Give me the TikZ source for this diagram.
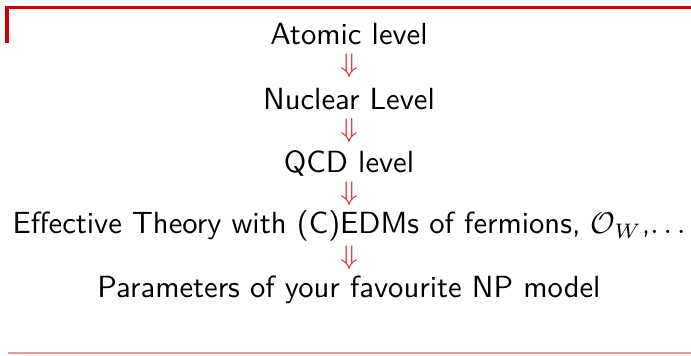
\documentclass[tikz,border=0pt]{standalone}
\usepackage{amsmath,amssymb}
\usepackage{xcolor}
\usetikzlibrary{positioning}
\renewcommand{\familydefault}{\sfdefault}
\definecolor{framered}{RGB}{204, 0, 0}
\definecolor{palered}{RGB}{240, 150, 150}
\definecolor{arrowred}{RGB}{220, 30, 40}

\begin{document}
\begin{tikzpicture}[x=0.3333pt, y=-0.3333pt, font=\fontsize{10.2}{12}\selectfont]
        \tikzset{
            level/.style={inner sep=0pt, anchor=center},
            down/.style={inner sep=0pt, anchor=center, text=arrowred, font=\fontsize{9.5}{11}\selectfont}
        }
        \useasboundingbox (0,0) rectangle (691,355);

        % Frame lines
        \draw[framered, line width=1pt] (7,43) -- (7,7) -- (691,7);
        \draw[palered, line width=0.35pt] (8,353) -- (691,353);

        % Levels
        \node[level] (atomic) at (349,34) {Atomic level};
        \node[down] (a1) at (349,66) {$\Downarrow$};
        \node[level] (nuclear) at (349,99) {Nuclear Level};
        \node[down] (a2) at (349,131) {$\Downarrow$};
        \node[level] (qcd) at (349,163) {QCD level};
        \node[down] (a3) at (349,194) {$\Downarrow$};
        \node[level] (eft) at (349,226) {Effective Theory with (C)EDMs of fermions, $\mathcal{O}_W$,$\ldots$};
        \node[down] (a4) at (349,258) {$\Downarrow$};
        \node[level] (np) at (349,290) {Parameters of your favourite NP model};
    \end{tikzpicture}
\end{document}
